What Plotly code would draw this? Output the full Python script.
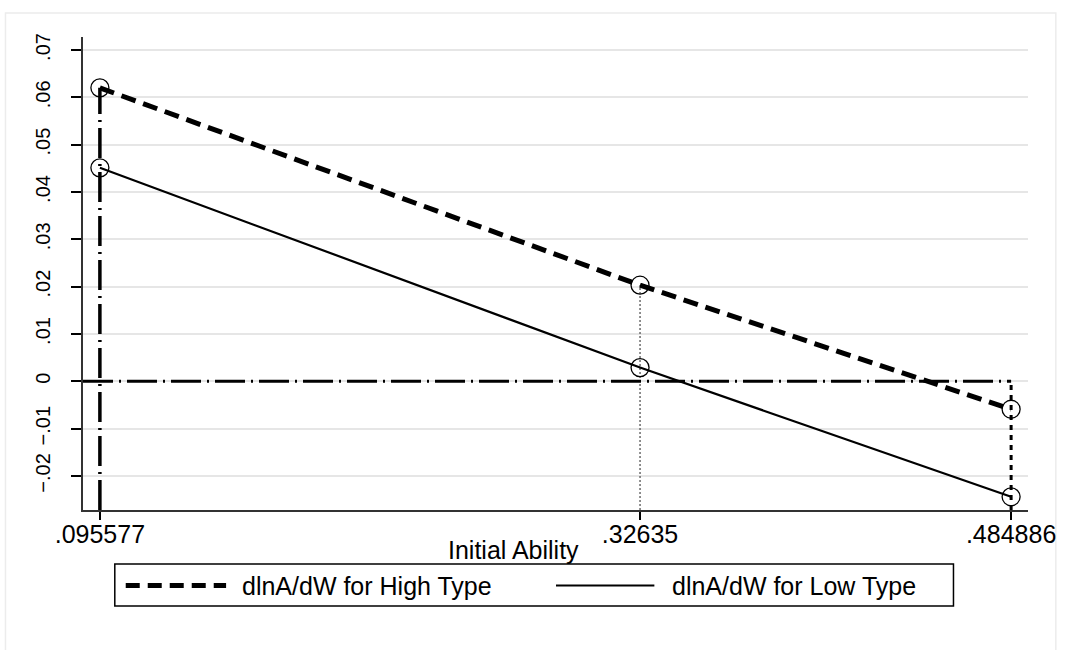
import plotly.graph_objects as go

# ---- data ----
ability = [0.095577, 0.32635, 0.484886]
ability_labels = [".095577", ".32635", ".484886"]
high_type = [0.0620, 0.0203, -0.0059]
low_type = [0.0451, 0.0029, -0.0244]
name_high = "dlnA/dW for High Type"
name_low = "dlnA/dW for Low Type"
y_ticks = [-0.02, -0.01, 0, 0.01, 0.02, 0.03, 0.04, 0.05, 0.06, 0.07]
y_tick_labels = ["\u2212.02", "\u2212.01", "0", ".01", ".02", ".03", ".04", ".05", ".06", ".07"]
x_title = "Initial Ability"

# ---- layout geometry ----
W, H = 1068, 650
L, R, T, B = 83, 34, 37, 140
PW, PH = W - L - R, H - T - B
x_range = [0.08836, 0.49210]
y_range = [-0.02719, 0.07274]


def px(xp):
    return (xp - L) / PW


def py(yp):
    return (H - B - yp) / PH


FONT = "Liberation Sans, Arial, sans-serif"
fig = go.Figure()

# drop lines from the axis to max(high, 0)
drop_styles = [
    dict(color="black", width=3.5, dash="30px,6px,2px,6px"),
    dict(color="#555555", width=1.3, dash="2px,2px"),
    dict(color="black", width=3, dash="5px,5px"),
]
for xv, hv, st in zip(ability, high_type, drop_styles):
    fig.add_trace(go.Scatter(x=[xv, xv], y=[y_range[0], max(hv, 0)], mode="lines",
                             line=st, hoverinfo="skip", showlegend=False))

# zero reference line
fig.add_trace(go.Scatter(x=[x_range[0], ability[-1]], y=[0, 0], mode="lines",
                         line=dict(color="black", width=3, dash="30px,6px,2px,6px"),
                         hoverinfo="skip", showlegend=False))

fig.add_trace(go.Scatter(x=ability, y=high_type, mode="lines+markers", name=name_high,
                         line=dict(color="black", width=5, dash="15px,8px"),
                         marker=dict(symbol="circle-open", size=18, color="black",
                                     line=dict(width=1.3, color="black")),
                         showlegend=False))
fig.add_trace(go.Scatter(x=ability, y=low_type, mode="lines+markers", name=name_low,
                         line=dict(color="black", width=2.2),
                         marker=dict(symbol="circle-open", size=18, color="black",
                                     line=dict(width=1.3, color="black")),
                         showlegend=False))

shapes = []
# outer light frame
shapes.append(dict(type="rect", xref="paper", yref="paper",
                   x0=px(5), x1=px(1062), y0=py(670), y1=py(13),
                   line=dict(color="#ececec", width=1.5), layer="below"))
# manual legend
shapes.append(dict(type="rect", xref="paper", yref="paper",
                   x0=px(115), x1=px(959), y0=py(606), y1=py(564),
                   line=dict(color="black", width=1.5)))
shapes.append(dict(type="line", xref="paper", yref="paper",
                   x0=px(126), x1=px(227), y0=py(585.5), y1=py(585.5),
                   line=dict(color="black", width=5, dash="14px,8px")))
shapes.append(dict(type="line", xref="paper", yref="paper",
                   x0=px(559), x1=px(658), y0=py(585.5), y1=py(585.5),
                   line=dict(color="black", width=2.2)))

annotations = [
    dict(text=name_high, xref="paper", yref="paper", x=px(241), y=py(586),
         xanchor="left", yanchor="middle", showarrow=False,
         font=dict(family=FONT, size=25, color="black")),
    dict(text=name_low, xref="paper", yref="paper", x=px(674), y=py(586),
         xanchor="left", yanchor="middle", showarrow=False,
         font=dict(family=FONT, size=25, color="black")),
    dict(text=x_title, xref="paper", yref="paper", x=px(516), y=py(550),
         xanchor="center", yanchor="middle", showarrow=False,
         font=dict(family=FONT, size=25, color="black")),
]

fig.update_layout(
    width=W, height=H,
    margin=dict(l=L, r=R, t=T, b=B, pad=0),
    paper_bgcolor="white", plot_bgcolor="white",
    font=dict(family=FONT, color="black"),
    shapes=shapes, annotations=annotations,
    showlegend=False,
)
fig.update_xaxes(range=x_range, tickvals=ability, ticktext=ability_labels,
                 showgrid=False, zeroline=False, showline=True, linecolor="#333333",
                 linewidth=1.5, ticks="outside", ticklen=8, tickwidth=1.5, tickcolor="black",
                 ticklabelstandoff=-7,
                 tickfont=dict(family=FONT, size=25, color="black"))
fig.update_yaxes(range=y_range, tickvals=y_ticks, ticktext=y_tick_labels, tickangle=-90,
                 showgrid=True, gridcolor="#e6e6e6", gridwidth=1.5, zeroline=False,
                 showline=True, linecolor="#333333", linewidth=1.5,
                 ticks="outside", ticklen=10, tickwidth=1.5, tickcolor="black",
                 ticklabelstandoff=13,
                 tickfont=dict(family=FONT, size=20, color="black"))

fig.write_html("out.html", config={"displayModeBar": False},
               post_script="document.body.style.margin='0px';")
